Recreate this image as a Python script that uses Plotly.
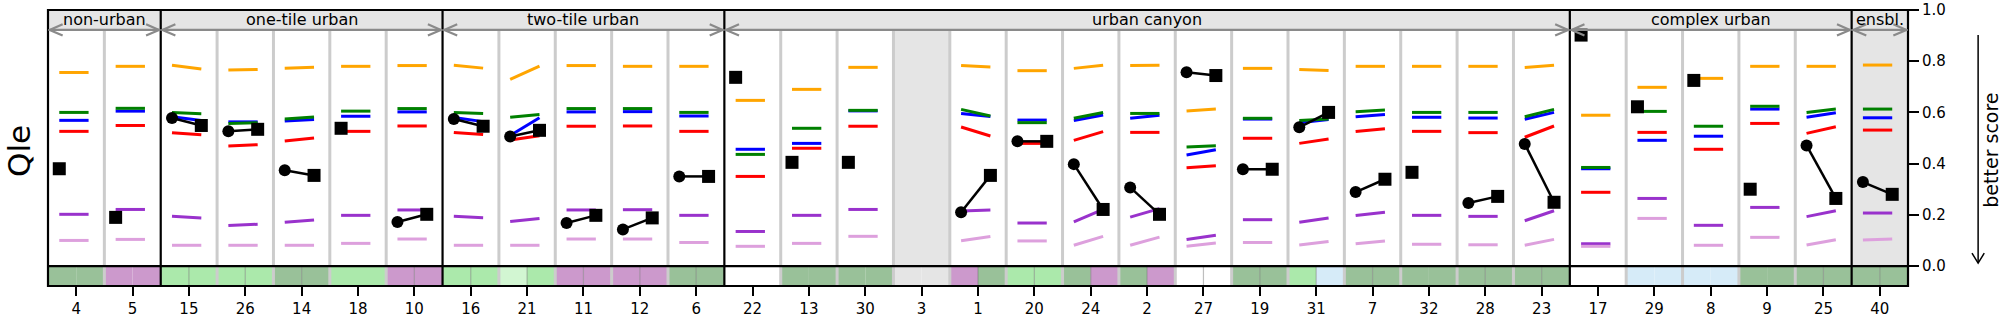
import plotly.graph_objects as go

# Station ids along the x axis, grouped by site class
stations = ["4", "5", "15", "26", "14", "18", "10", "16", "21", "11", "12", "6",
            "22", "13", "30", "3", "1", "20", "24", "2", "27", "19", "31", "7",
            "32", "28", "23", "17", "29", "8", "9", "25", "40"]
group_names = ["non-urban", "one-tile urban", "two-tile urban", "urban canyon",
               "complex urban", "ensbl."]
group_sizes = [2, 5, 5, 15, 5, 1]

N = None
# Benchmark scores: "_a" = stage 1, "_b" = stage 2
orange_a = [.756, .780, .784, .766, .772, .780, .783, .784, .729, .783, .780, .780, .647, .690, .776, N,
            .783, .763, .772, .783, .606, .772, .768, .780, .780, .780, .775, .589, .698, .733, .780, .780, .785]
orange_b = [.756, .780, .770, .768, .776, .780, .783, .773, .781, .783, .780, .780, .647, .690, .776, N,
            .777, .763, .784, .784, .613, .772, .764, .780, .780, .780, .784, .589, .698, .733, .780, .780, .785]
green_a = [.600, .616, .600, .557, .574, .605, .615, .600, .581, .615, .615, .600, .436, .538, .608, N,
           .612, .560, .577, .596, .465, .577, .568, .603, .600, .600, .583, .385, .604, .546, .624, .600, .613]
green_b = [.600, .616, .595, .560, .582, .605, .615, .596, .592, .615, .615, .600, .436, .538, .608, N,
           .586, .560, .600, .596, .470, .577, .574, .609, .600, .600, .612, .385, .604, .546, .624, .613, .613]
blue_a = [.569, .605, .583, .563, .566, .585, .602, .580, .510, .602, .603, .586, .456, .479, .606, N,
          .596, .570, .568, .577, .434, .574, .560, .583, .581, .578, .573, .380, .491, .507, .613, .581, .579]
blue_b = [.569, .605, .568, .563, .572, .585, .602, .564, .579, .602, .603, .586, .456, .479, .606, N,
          .584, .570, .590, .589, .454, .574, .572, .592, .581, .578, .600, .380, .491, .507, .613, .599, .579]
red_a = [.526, .549, .521, .469, .488, .526, .547, .522, .492, .546, .547, .526, .350, .460, .546, N,
         .543, .479, .491, .522, .384, .499, .479, .525, .526, .521, .503, .288, .522, .456, .557, .518, .531]
red_b = [.526, .549, .513, .474, .500, .526, .547, .514, .509, .546, .547, .526, .350, .460, .546, N,
         .508, .479, .525, .522, .392, .499, .496, .536, .526, .521, .547, .288, .522, .456, .557, .544, .531]
purple_a = [.202, .221, .194, .158, .171, .198, .219, .194, .174, .219, .220, .198, .135, .198, .221, N,
            .215, .168, .172, .191, .104, .181, .171, .197, .198, .194, .177, .087, .264, .159, .229, .193, .207]
purple_b = [.202, .221, .188, .163, .180, .198, .219, .189, .186, .219, .220, .198, .135, .198, .221, N,
            .219, .168, .221, .224, .120, .181, .188, .210, .198, .194, .216, .087, .264, .159, .229, .216, .207]
plum_a = [.100, .104, .081, .081, .081, .0885, .1055, .081, .081, .1055, .1055, .092, .077, .0885, .116, N,
          .099, .098, .081, .081, .077, .092, .082, .087, .085, .083, .081, .077, .186, .081, .112, .082, .102]
plum_b = [.100, .104, .081, .081, .081, .0885, .1055, .081, .081, .1055, .1055, .092, .077, .0885, .116, N,
          .115, .098, .116, .113, .090, .092, .096, .098, .085, .083, .104, .077, .186, .081, .112, .103, .106]

# Site model score: circle = stage 1, square = stage 2 (square only when single stage)
circle_val = [N, N, .578, .526, .374, N, .172, .574, .506, .168, .143, .350, N, N, N, N,
              .210, .487, .398, .307, .757, .378, .542, .289, N, .246, .477, N, N, N, N, .471, .328]
square_val = [.380, .190, .549, .534, .354, .538, .202, .546, .530, .198, .188, .350, .737, .405, .405, N,
              .354, .487, .221, .202, .744, .378, .600, .339, .366, .272, .249, .902, .622, .725, .300, .264, .280]

# Site class code for the bottom strip (stage 1 / stage 2 halves)
strip_a = ["dg", "pu", "lg", "lg", "dg", "lg", "pu", "lg", "vl", "pu", "pu", "dg", "wh", "dg", "dg", "na",
           "pu", "lg", "dg", "dg", "wh", "dg", "lg", "dg", "dg", "dg", "dg", "wh", "lb", "lb", "dg", "dg", "dg"]
strip_b = ["dg", "pu", "lg", "lg", "dg", "lg", "pu", "lg", "lg", "pu", "pu", "dg", "wh", "dg", "dg", "na",
           "dg", "lg", "pu", "pu", "wh", "dg", "lb", "dg", "dg", "dg", "dg", "wh", "lb", "lb", "dg", "dg", "dg"]

strip_colors = {"dg": "#99c199", "pu": "#cc99cc", "lg": "#abe9ab", "vl": "#d2f6d2",
                "lb": "#d6ebf8", "wh": "#ffffff", "na": "#e5e5e5"}

XA, XB = -0.3, 0.22
Y_STRIP = -0.078
Y_HEAD = 0.922
n = len(stations)


def seg_trace(a, b, color, width=3):
    xs, ys = [], []
    for i in range(n):
        if a[i] is None:
            continue
        xs += [i + XA, i + XB, None]
        ys += [a[i], b[i], None]
    return go.Scatter(x=xs, y=ys, mode="lines", line=dict(color=color, width=width),
                      hoverinfo="skip", showlegend=False)


fig = go.Figure()
for a, b, c in [(orange_a, orange_b, "#ffa500"), (blue_a, blue_b, "#0000ff"),
                (green_a, green_b, "#008000"), (red_a, red_b, "#ff0000"),
                (purple_a, purple_b, "#9932cc"), (plum_a, plum_b, "#dda0dd")]:
    fig.add_trace(seg_trace(a, b, c))

# black connector between stage 1 and stage 2 site scores
lx, ly = [], []
cx, cy, sx, sy = [], [], [], []
for i in range(n):
    if square_val[i] is None:
        continue
    if circle_val[i] is not None:
        lx += [i + XA, i + XB, None]
        ly += [circle_val[i], square_val[i], None]
        cx.append(i + XA)
        cy.append(circle_val[i])
        sx.append(i + XB)
    else:
        sx.append(i + XA)
    sy.append(square_val[i])
fig.add_trace(go.Scatter(x=lx, y=ly, mode="lines", line=dict(color="black", width=2.5),
                         hoverinfo="skip", showlegend=False))
fig.add_trace(go.Scatter(x=cx, y=cy, mode="markers",
                         marker=dict(symbol="circle", size=12, color="black"),
                         hoverinfo="skip", showlegend=False))
fig.add_trace(go.Scatter(x=sx, y=sy, mode="markers",
                         marker=dict(symbol="square", size=13, color="black"),
                         hoverinfo="skip", showlegend=False))

shapes = []
# header band
shapes.append(dict(type="rect", xref="x", yref="y", x0=-0.5, x1=n - 0.5, y0=Y_HEAD, y1=1.0,
                   fillcolor="#e5e5e5", line=dict(width=0), layer="below"))
# strip halves and empty columns
for i in range(n):
    shapes.append(dict(type="rect", xref="x", yref="y", x0=i - 0.5, x1=i, y0=Y_STRIP, y1=0,
                       fillcolor=strip_colors[strip_a[i]], line=dict(width=0), layer="below"))
    shapes.append(dict(type="rect", xref="x", yref="y", x0=i, x1=i + 0.5, y0=Y_STRIP, y1=0,
                       fillcolor=strip_colors[strip_b[i]], line=dict(width=0), layer="below"))
    if square_val[i] is None:
        shapes.append(dict(type="rect", xref="x", yref="y", x0=i - 0.5, x1=i + 0.5, y0=0, y1=Y_HEAD,
                           fillcolor="#e5e5e5", line=dict(width=0), layer="below"))
# ensemble column background
last = n - group_sizes[-1]
shapes.append(dict(type="rect", xref="x", yref="y", x0=last - 0.5, x1=n - 0.5, y0=0, y1=Y_HEAD,
                   fillcolor="#e5e5e5", line=dict(width=0), layer="below"))

# group boundaries
bounds = [-0.5]
for s in group_sizes:
    bounds.append(bounds[-1] + s)
inner = [i + 0.5 for i in range(n - 1) if (i + 0.5) not in bounds]
for xv in inner:
    shapes.append(dict(type="line", xref="x", yref="y", x0=xv, x1=xv, y0=Y_STRIP, y1=Y_HEAD,
                       line=dict(color="#cccccc", width=3), layer="below"))
for i in range(n):
    if circle_val[i] is not None:
        shapes.append(dict(type="line", xref="x", yref="y", x0=i, x1=i, y0=Y_STRIP, y1=0,
                           line=dict(color="rgba(110,110,110,0.45)", width=1.2), layer="below"))

for xv in bounds[1:-1]:
    shapes.append(dict(type="line", xref="x", yref="y", x0=xv, x1=xv, y0=Y_STRIP, y1=1.0,
                       line=dict(color="black", width=2.2), layer="above"))
shapes.append(dict(type="line", xref="x", yref="y", x0=-0.5, x1=n - 0.5, y0=0, y1=0,
                   line=dict(color="black", width=2.2), layer="above"))
shapes.append(dict(type="rect", xref="paper", yref="paper", x0=0, x1=1, y0=0, y1=1,
                   line=dict(color="black", width=2.2), layer="above"))

# double-headed arrows under group names
tip, adx, ady = 0.03, 0.23, 0.022
annotations = []
for k, name in enumerate(group_names):
    a, b = bounds[k] + tip, bounds[k + 1] - tip
    gcol = "#8a8a8a"
    shapes.append(dict(type="line", xref="x", yref="y", x0=a, x1=b, y0=Y_HEAD, y1=Y_HEAD,
                       line=dict(color=gcol, width=2.2), layer="above"))
    shapes.append(dict(type="path", xref="x", yref="y",
                       path=f"M {a + adx},{Y_HEAD + ady} L {a},{Y_HEAD} L {a + adx},{Y_HEAD - ady}",
                       line=dict(color=gcol, width=2.2), layer="above"))
    shapes.append(dict(type="path", xref="x", yref="y",
                       path=f"M {b - adx},{Y_HEAD + ady} L {b},{Y_HEAD} L {b - adx},{Y_HEAD - ady}",
                       line=dict(color=gcol, width=2.2), layer="above"))
    annotations.append(dict(x=(bounds[k] + bounds[k + 1]) / 2, y=0.963, xref="x", yref="y",
                            text=name, showarrow=False, xanchor="center", yanchor="middle",
                            font=dict(size=16, color="black")))

# "better score" arrow on the right
ax_x = 1.0377
y_top, y_bot = 0.909, 0.083
shapes.append(dict(type="line", xref="paper", yref="paper", x0=ax_x, x1=ax_x, y0=y_top, y1=y_bot,
                   line=dict(color="black", width=1.5)))
shapes.append(dict(type="path", xref="paper", yref="paper",
                   path=f"M {ax_x - 0.0033},{y_bot + 0.036} L {ax_x},{y_bot} L {ax_x + 0.0033},{y_bot + 0.036}",
                   line=dict(color="black", width=1.5)))
annotations.append(dict(x=1.0445, y=0.493, xref="paper", yref="paper", text="better score",
                        textangle=-90, showarrow=False, xanchor="center", yanchor="middle",
                        font=dict(size=19, color="black")))
annotations.append(dict(x=-0.0155, y=0.49, xref="paper", yref="paper", text="Qle",
                        textangle=-90, showarrow=False, xanchor="center", yanchor="middle",
                        font=dict(size=31, color="black")))

fig.update_layout(
    template="none",
    width=2005, height=325,
    margin=dict(l=48, r=97, t=10, b=39, pad=0),
    paper_bgcolor="white", plot_bgcolor="white",
    font=dict(family="DejaVu Sans", color="black"),
    shapes=shapes, annotations=annotations,
    showlegend=False,
    xaxis=dict(range=[-0.5, n - 0.5], tickmode="array", tickvals=list(range(n)), ticktext=stations,
               ticks="outside", ticklen=9, tickwidth=2, tickcolor="black",
               tickfont=dict(size=15), showgrid=False, zeroline=False, showline=False,
               automargin=False, fixedrange=True),
    yaxis=dict(range=[Y_STRIP, 1.0], side="right", tickmode="array",
               tickvals=[0, 0.2, 0.4, 0.6, 0.8, 1.0], ticktext=["0.0", "0.2", "0.4", "0.6", "0.8", "1.0"],
               ticks="outside", ticklen=10, tickwidth=2, tickcolor="black",
               tickfont=dict(size=15), showgrid=False, zeroline=False, showline=False,
               automargin=False, fixedrange=True),
)

fig.write_html("out.html")
